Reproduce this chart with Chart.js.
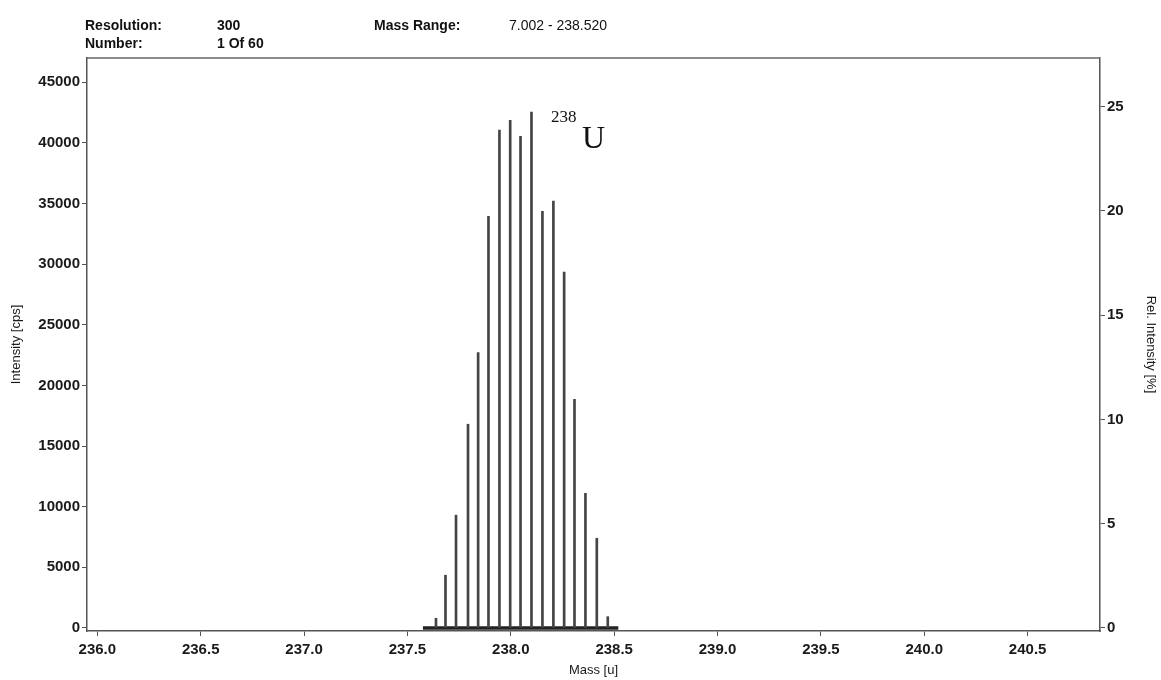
<!DOCTYPE html>
<html>
<head>
<meta charset="utf-8">
<title>238U mass spectrum</title>
<script src="https://cdn.jsdelivr.net/npm/chart.js@4.4.1/dist/chart.umd.min.js"></script>
<style>
  html, body { margin: 0; padding: 0; background: #fff; }
  #wrap { position: relative; width: 1161px; height: 680px; }
  #spec { position: absolute; left: 0; top: 0; }
  .hdr {
    position: absolute;
    font: bold 14px 'Liberation Sans Narrow', 'Liberation Sans', Arial, sans-serif;
    color: #111;
    white-space: nowrap;
    line-height: 1;
  }
</style>
</head>
<body>
<div id="wrap">
  <canvas id="spec" width="1161" height="680"></canvas>
  <div class="hdr" style="left:85px;top:18px">Resolution:</div>
  <div class="hdr" style="left:217px;top:18px">300</div>
  <div class="hdr" style="left:374px;top:18px">Mass Range:</div>
  <div class="hdr" style="left:509px;top:18px;font-weight:normal">7.002 - 238.520</div>
  <div class="hdr" style="left:85px;top:36px">Number:</div>
  <div class="hdr" style="left:217px;top:36px">1 Of 60</div>
</div>

<script>
// tick labels
const massTicks = [236.0, 236.5, 237.0, 237.5, 238.0, 238.5, 239.0, 239.5, 240.0, 240.5];
const intensityTicks = [0, 5000, 10000, 15000, 20000, 25000, 30000, 35000, 40000, 45000];
const relTicks = [0, 5, 10, 15, 20, 25];

// stick spectrum of 238U (mass in u, intensity in cps)
const peakMass = [237.638, 237.684, 237.735, 237.793, 237.842, 237.892, 237.945, 237.997, 238.047,
                  238.100, 238.153, 238.206, 238.258, 238.308, 238.361, 238.416, 238.469];
const peakIntensity = [800, 4350, 9300, 16800, 22700, 33950, 41050, 41850, 40550,
                       42550, 34350, 35200, 29350, 18850, 11100, 7400, 930];

// dense baseline under the scanned window
const baselineMass = [237.575, 238.52];
const baselineIntensity = [0, 0];

// label position (data units)
const labelMass = 238.195;
const labelIntensity = 41700;

const CPS_PER_PERCENT = 1720;
const Y_MIN = -250;
const Y_MAX = 47000;

const tickFont = { family: "'Liberation Sans Narrow', 'Liberation Sans', Arial, sans-serif", size: 15, weight: 'bold' };
const titleFont = { family: "'Liberation Sans Narrow', 'Liberation Sans', Arial, sans-serif", size: 13, weight: 'normal' };
const ink = '#1a1a1a';
const axisGrey = '#555';

const framePlugin = {
  id: 'frame',
  afterDraw(chart) {
    const { ctx, chartArea: a } = chart;
    ctx.save();
    ctx.strokeStyle = '#666';
    ctx.lineWidth = 1.5;
    ctx.beginPath();
    ctx.moveTo(a.left, a.top);
    ctx.lineTo(a.right, a.top);
    ctx.stroke();
    ctx.restore();
  }
};

const isotopeLabel = {
  id: 'isotopeLabel',
  afterDatasetsDraw(chart) {
    const { ctx, scales } = chart;
    const x = scales.x.getPixelForValue(labelMass);
    const y = scales.y.getPixelForValue(labelIntensity);
    ctx.save();
    ctx.fillStyle = '#111';
    ctx.textBaseline = 'alphabetic';
    ctx.font = "17px 'Liberation Serif', 'Times New Roman', serif";
    ctx.fillText('238', x, y);
    ctx.font = "32px 'Liberation Serif', 'Times New Roman', serif";
    ctx.fillText('U', x + 31, y + 26);
    ctx.restore();
  }
};

const chart = new Chart(document.getElementById('spec'), {
  type: 'bar',
  data: {
    datasets: [
      {
        type: 'bar',
        label: 'Intensity',
        data: peakMass.map((m, i) => ({ x: m, y: peakIntensity[i] })),
        backgroundColor: '#444',
        borderWidth: 0,
        barThickness: 2,
        xAxisID: 'x',
        yAxisID: 'y'
      },
      {
        type: 'line',
        label: 'Baseline',
        data: baselineMass.map((m, i) => ({ x: m, y: baselineIntensity[i] })),
        borderColor: '#222',
        borderWidth: 3.5,
        pointRadius: 0,
        fill: false,
        xAxisID: 'x',
        yAxisID: 'y'
      }
    ]
  },
  options: {
    responsive: false,
    animation: false,
    devicePixelRatio: 1,
    layout: { padding: { top: 58, left: 0, right: 0, bottom: 0 } },
    plugins: {
      legend: { display: false },
      tooltip: { enabled: false }
    },
    scales: {
      x: {
        type: 'linear',
        position: 'bottom',
        min: 235.95,
        max: 240.85,
        offset: false,
        afterBuildTicks: s => { s.ticks = massTicks.map(v => ({ value: v })); },
        afterFit: s => { s.height = 49; },
        ticks: {
          callback: v => Number(v).toFixed(1),
          font: tickFont, color: ink, padding: 5,
          maxRotation: 0, autoSkip: false
        },
        grid: { offset: false, drawOnChartArea: false, drawTicks: true, tickLength: 5, color: axisGrey, lineWidth: 1 },
        border: { display: true, color: axisGrey, width: 1.5 },
        title: { display: true, text: 'Mass [u]', font: titleFont, color: ink, padding: { top: 0, bottom: 2 } }
      },
      y: {
        type: 'linear',
        position: 'left',
        min: Y_MIN,
        max: Y_MAX,
        afterBuildTicks: s => { s.ticks = intensityTicks.map(v => ({ value: v })); },
        afterFit: s => { s.width = 87; },
        ticks: { font: tickFont, color: ink, padding: 2, callback: v => String(v) },
        grid: { drawOnChartArea: false, drawTicks: true, tickLength: 5, color: axisGrey, lineWidth: 1 },
        border: { display: true, color: axisGrey, width: 1.5 },
        title: { display: true, text: 'Intensity [cps]', font: titleFont, color: ink, padding: { top: 9, bottom: 0 } }
      },
      y2: {
        type: 'linear',
        position: 'right',
        min: Y_MIN / CPS_PER_PERCENT,
        max: Y_MAX / CPS_PER_PERCENT,
        afterBuildTicks: s => { s.ticks = relTicks.map(v => ({ value: v })); },
        afterFit: s => { s.width = 61; },
        ticks: { font: tickFont, color: ink, padding: 2, callback: v => String(v) },
        grid: { drawOnChartArea: false, drawTicks: true, tickLength: 5, color: axisGrey, lineWidth: 1 },
        border: { display: true, color: axisGrey, width: 1.5 },
        title: { display: true, text: 'Rel. Intensity [%]', font: titleFont, color: ink, padding: { top: 3, bottom: 0 } }
      }
    }
  },
  plugins: [framePlugin, isotopeLabel]
});
</script>
</body>
</html>
